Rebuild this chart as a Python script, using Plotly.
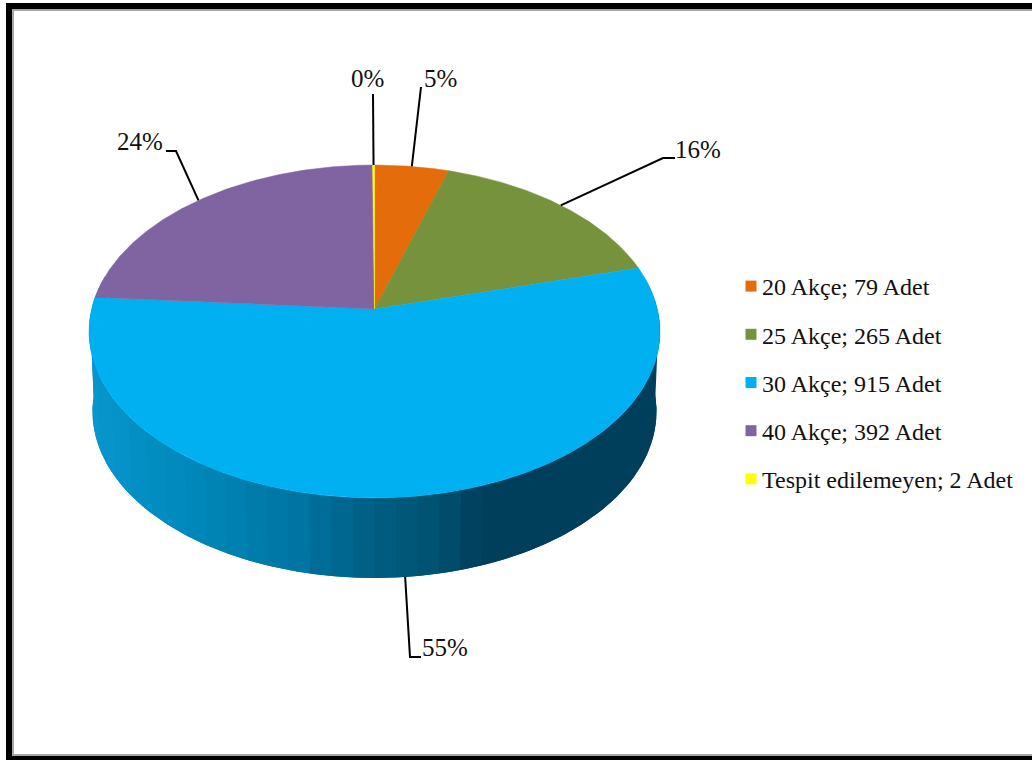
import numpy as np
import plotly.graph_objects as go

categories = ["20 Akçe", "25 Akçe", "30 Akçe", "40 Akçe", "Tespit edilemeyen"]
counts = [79, 265, 915, 392, 2]
colors = ["#E46C0A", "#76923C", "#00B0F0", "#8064A2", "#FFFF00"]
label_pos = [(440, 78), (698, 149), (445, 647), (140, 141), (367, 78)]
label_elbow = [(421, 87), (663, 158), (410, 657), (176, 151), (373, 94)]
label_end = [(421, 87), (675, 158), (421, 657), (166, 151), (373, 94)]

# Pie geometry: perspective projection of a unit circle, in screen pixels
CX, CY, A, B, K = 374.5, 309.0, 282.9, 163.4, 0.135
DROP, SHRINK = 80.0, 0.988
FONT = "Liberation Serif"

wall_x = [93, 200, 300, 370, 440, 480, 660]
wall_rgb = [(7, 150, 206), (0, 135, 184), (0, 116, 162), (0, 95, 132),
            (0, 81, 111), (0, 63, 92), (0, 63, 92)]


def project(theta_deg):
    t = np.radians(theta_deg)
    u, w = np.sin(t), np.cos(t)
    d = 1 + K * w
    return CX + A * u / d, CY - B * w / d


def lower(x, y):
    return CX + SHRINK * (x - CX), y + DROP


total = sum(counts)
edges = np.concatenate([[0], np.cumsum(counts)]) / total * 360

fig = go.Figure()

# Side wall, in shading strips of even width; each strip overlaps the next to hide seams
strip_u = np.linspace(0.999, -0.999, 31)
strip_angles = 180 - np.degrees(np.arcsin(strip_u))
full = np.concatenate([[78], strip_angles, [282]])
for j in range(len(full) - 1):
    a0, a1 = full[j], full[min(j + 2, len(full) - 1)]
    ts = np.linspace(a0, a1, 8)
    xt, yt = project(ts)
    xb, yb = lower(xt, yt)
    xm = float(project((full[j] + full[j + 1]) / 2)[0])
    rgb = [int(np.interp(xm, wall_x, [c[i] for c in wall_rgb])) for i in range(3)]
    col = f"rgb({rgb[0]},{rgb[1]},{rgb[2]})"
    fig.add_trace(go.Scatter(
        x=np.concatenate([xt, xb[::-1]]), y=np.concatenate([yt, yb[::-1]]),
        mode="lines", fill="toself", fillcolor=col,
        line=dict(color=col, width=0), showlegend=False, hoverinfo="skip"))

# Top face wedges
for i, (name, col) in enumerate(zip(categories, colors)):
    ts = np.linspace(edges[i], edges[i + 1], max(3, int((edges[i + 1] - edges[i]) * 2)))
    xs, ys = project(ts)
    fig.add_trace(go.Scatter(
        x=np.concatenate([[CX], xs, [CX]]), y=np.concatenate([[CY], ys, [CY]]),
        mode="lines", fill="toself", fillcolor=col, line=dict(color=col, width=0.5),
        showlegend=False, name=name))

# Legend entries
for name, n, col in zip(categories, counts, colors):
    fig.add_trace(go.Scatter(
        x=[None], y=[None], mode="markers", name=f"{name}; {n} Adet", legendgroup=name,
        marker=dict(symbol="square", size=11, color=col)))

# Leader lines and percentage labels
for i, n in enumerate(counts):
    mid = (edges[i] + edges[i + 1]) / 2
    px, py = project(mid)
    if 90 < mid < 270:
        px, py = lower(px, py)
    (ex, ey), (fx, fy) = label_elbow[i], label_end[i]
    fig.add_trace(go.Scatter(
        x=[px, ex, fx], y=[py, ey, fy], mode="lines",
        line=dict(color="#000000", width=2), showlegend=False, hoverinfo="skip"))
    fig.add_annotation(
        x=label_pos[i][0], y=label_pos[i][1], text=f"{round(n / total * 100)}%",
        showarrow=False, font=dict(family=FONT, size=25, color="#111111"))

# Frame
frame = [
    (6, 3, 12, 760, "#000000"), (6, 3, 1032, 9, "#000000"), (6, 756, 1032, 760, "#000000"),
    (12, 9, 14, 756, "#A6A6A6"), (12, 9, 1032, 11, "#A6A6A6"), (12, 754, 1032, 756, "#A6A6A6"),
]
for x0, y0, x1, y1, c in frame:
    fig.add_shape(type="rect", x0=x0, y0=y0, x1=x1, y1=y1, fillcolor=c,
                  line=dict(width=0), layer="above")

fig.update_layout(
    width=1032, height=760, margin=dict(l=0, r=0, t=0, b=0),
    paper_bgcolor="#FFFFFF", plot_bgcolor="#FFFFFF",
    xaxis=dict(range=[0, 1032], visible=False, fixedrange=True),
    yaxis=dict(range=[760, 0], visible=False, fixedrange=True),
    legend=dict(x=722 / 1032, y=1 - 264 / 760, xanchor="left", yanchor="top",
                font=dict(family=FONT, size=24, color="#111111"),
                tracegroupgap=14, bgcolor="rgba(0,0,0,0)", itemwidth=30),
    showlegend=True,
)

post = """
document.body.style.margin = '0';
document.querySelectorAll('.legendsymbols').forEach(function (g) {
  g.setAttribute('transform', 'translate(9,0)');
});
"""
fig.write_html("out.html", post_script=post, config={"displayModeBar": False})
